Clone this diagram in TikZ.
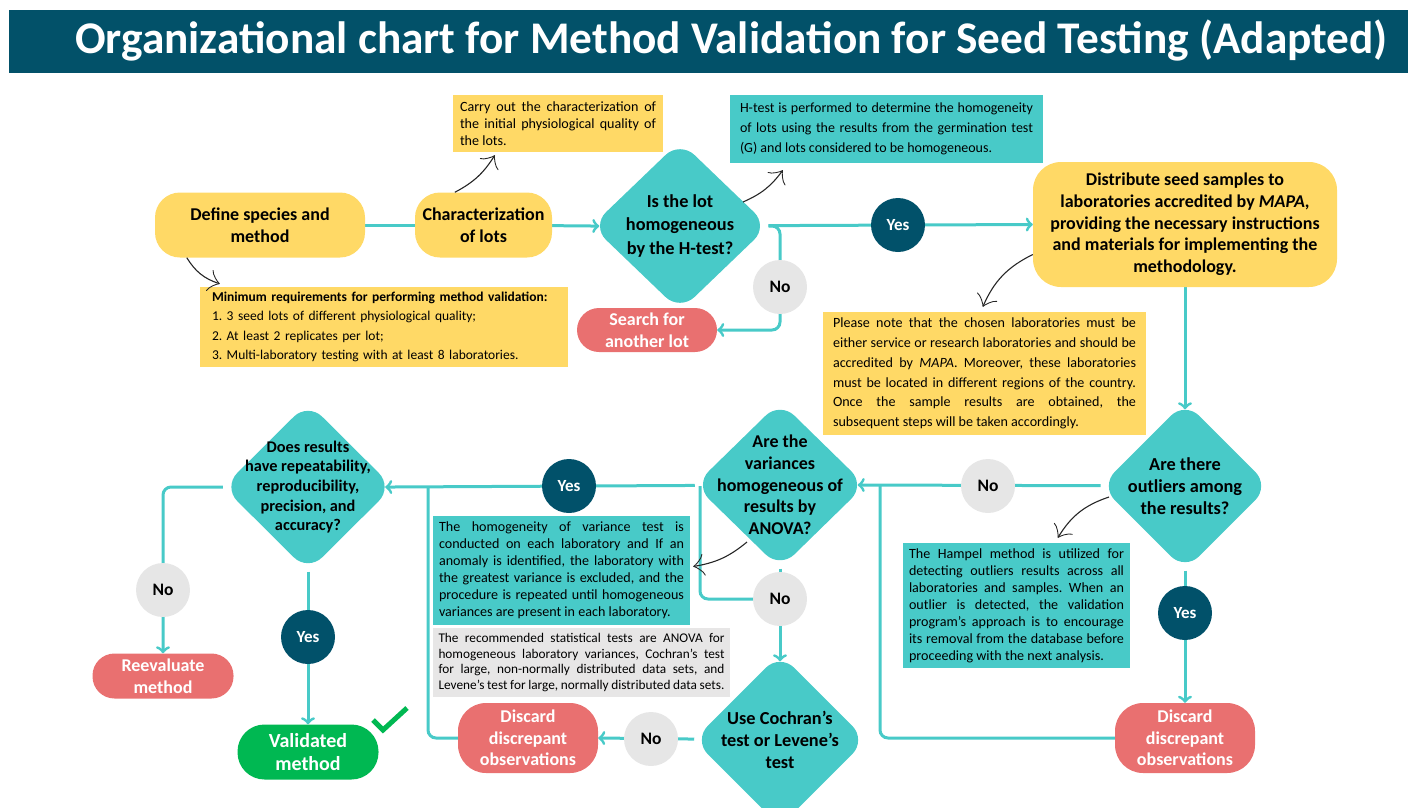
\documentclass[tikz,border=0pt]{standalone}
\usepackage{fontspec}
\setmainfont{Carlito}
\usepackage{tikz}
\usetikzlibrary{arrows.meta}
\usetikzlibrary{positioning}
\usetikzlibrary{shapes.geometric, calc, backgrounds}

\definecolor{titleblue}{HTML}{025169}
\definecolor{seedyellow}{HTML}{FFD966}
\definecolor{seedteal}{HTML}{48CAC8}
\definecolor{darkteal}{HTML}{01516A}
\definecolor{lightgrey}{HTML}{E6E6E6}
\definecolor{salmon}{HTML}{E97070}
\definecolor{okgreen}{HTML}{00B852}
\definecolor{notegrey}{HTML}{E7E6E6}

\frenchspacing

\begin{document}
\begin{tikzpicture}
    [x=1pt,y=1pt,
yellowbox/.style={rectangle, rounded corners=25pt, fill=seedyellow, align=center, inner sep=0pt, font=\fontsize{18}{21.7}\selectfont\bfseries},
redbox/.style={rectangle, rounded corners=22pt, fill=salmon, text=white, align=center, inner sep=0pt, font=\fontsize{18}{21.7}\selectfont\bfseries},
decision/.style={diamond, rounded corners=20pt, fill=seedteal, inner sep=0pt},
qtext/.style={align=center, font=\fontsize{18.3}{21.7}\selectfont\bfseries},
yesnode/.style={circle, fill=darkteal, text=white, minimum size=54pt, inner sep=0pt, font=\fontsize{17}{18}\selectfont\bfseries},
nonode/.style={circle, fill=lightgrey, minimum size=54pt, inner sep=0pt, font=\fontsize{17.5}{18}\selectfont\bfseries},
note/.style={rectangle, inner ysep=3pt, align=justify, font=\fontsize{14.1}{17}\selectfont},
flow/.style={seedteal, line width=3pt, -{Classical TikZ Rightarrow[length=7pt,width=14pt]}},
link/.style={seedteal, line width=3pt},
todia/.style={shorten >=-8pt},
hint/.style={black!85, line width=1.1pt, -{Classical TikZ Rightarrow[length=11pt,width=22pt]}}
]

\useasboundingbox (0,0) rectangle (1417,-807);
\clip (0,0) rectangle (1417,-807);

% title bar
\fill[titleblue] (9,-10) rectangle (1408,-73);
\node[anchor=west, text=white, inner sep=0pt, font=\fontsize{45.3}{50}\selectfont\bfseries] (title) at (75,-41) {Organizational chart for Method Validation for Seed Testing (Adapted)};

% main steps
\node[yellowbox, minimum width=210pt, minimum height=65pt] (define) at (260,-225) {Define species and\\method};
\node[yellowbox, minimum width=137pt, minimum height=65pt] (charlots) at (483.5,-225) {Characterization\\of lots};
\node[decision, minimum width=177pt, minimum height=170pt, label={[qtext, font=\fontsize{18.3}{23.3}\selectfont\bfseries]center:Is the lot\\homogeneous\\by the H-test?}] (lotq) at (680,-226) {};
\node[yellowbox, rounded corners=28pt, minimum width=304pt, minimum height=125pt] (distribute) at (1185,-224.5) {Distribute seed samples to\\laboratories accredited by \textit{MAPA},\\providing the necessary instructions\\and materials for implementing the\\methodology.};
\node[redbox, minimum width=140pt, minimum height=44pt] (search) at (647,-330) {Search for\\another lot};

\node[decision, minimum width=169pt, minimum height=169pt, label={[qtext]center:Are there\\outliers among\\the results?}] (outq) at (1185,-486) {};
\node[redbox, rounded corners=28pt, minimum width=140pt, minimum height=70pt] (discR) at (1185,-738) {Discard\\discrepant\\observations};
\node[decision, minimum width=171pt, minimum height=167pt, label={[qtext, font=\fontsize{18}{21.7}\selectfont\bfseries]center:Are the\\variances\\homogeneous of\\results by\\ANOVA?}] (varq) at (780,-485) {};
\node[decision, minimum width=173pt, minimum height=173pt, label={[qtext]center:Use Cochran’s\\test or Levene’s\\test}] (cochq) at (780,-740) {};
\node[redbox, rounded corners=28pt, minimum width=140pt, minimum height=70pt] (discL) at (528,-738) {Discard\\discrepant\\observations};
\node[decision, minimum width=170pt, minimum height=169pt, label={[qtext, font=\fontsize{16.3}{19.6}\selectfont\bfseries]center:{Does results\\have repeatability,\\reproducibility,\\precision, and\\accuracy?}}] (repq) at (308,-487) {};
\node[redbox, minimum width=141pt, minimum height=45pt] (reeval) at (163,-676) {Reevaluate\\method};
\node[redbox, fill=okgreen, rounded corners=27pt, minimum width=141pt, minimum height=55pt, font=\fontsize{20}{23}\selectfont\bfseries] (validated) at (308,-752) {Validated\\method};

% yes / no marks
\node[yesnode] (yes1) at (898,-225) {Yes};
\node[nonode] (no1) at (780,-287) {No};
\node[nonode] (no2) at (988,-486) {No};
\node[yesnode] (yes2) at (1185,-613) {Yes};
\node[yesnode] (yes3) at (569,-486) {Yes};
\node[nonode] (no3) at (780,-599) {No};
\node[nonode] (no4) at (651,-739) {No};
\node[nonode] (no5) at (163,-590) {No};
\node[yesnode] (yes4) at (308,-637) {Yes};

% side notes
\node[note, fill=seedyellow, text width=196pt, inner xsep=7pt, minimum height=57pt, font=\fontsize{14.1}{16.7}\selectfont] (carry) at (558,-123.5) {Carry out the characterization of\linebreak the initial physiological quality of\linebreak the lots.};
\node[note, fill=seedteal, text width=293pt, inner xsep=10pt, minimum height=68pt, font=\fontsize{14}{19.7}\selectfont] (htest) at (886.5,-129) {H-test is performed to determine the homogeneity\linebreak of lots using the results from the germination test\linebreak (G) and lots considered to be homogeneous.};
\node[note, fill=seedyellow, text width=344pt, inner xsep=12pt, minimum height=80pt, align=left, font=\fontsize{13.5}{19.2}\selectfont] (minreq) at (384,-327) {\textbf{Minimum requirements for performing method validation:}\\1. 3 seed lots of different physiological quality;\\2. At least 2 replicates per lot;\\3. Multi-laboratory testing with at least 8 laboratories.};
\node[note, fill=seedyellow, text width=303pt, inner xsep=10pt, minimum height=123pt, font=\fontsize{14.1}{19.7}\selectfont] (please) at (984.5,-373.5) {Please note that the chosen laboratories must be\linebreak either service or research laboratories and should be\linebreak accredited by \textit{MAPA}. Moreover, these laboratories\linebreak must be located in different regions of the country.\linebreak Once the sample results are obtained, the\linebreak subsequent steps will be taken accordingly.};
\node[note, fill=seedteal, text width=215pt, inner xsep=6pt, minimum height=125pt] (hampel) at (1016.5,-605.5) {The Hampel method is utilized for\linebreak detecting outliers results across all\linebreak laboratories and samples. When an\linebreak outlier is detected, the validation\linebreak program's approach is to encourage\linebreak its removal from the database before\linebreak proceeding with the next analysis.};
\node[note, fill=seedteal, text width=245pt, inner xsep=6pt, minimum height=109pt] (homog) at (561.5,-570.5) {The homogeneity of variance test is\linebreak conducted on each laboratory and If an\linebreak anomaly is identified, the laboratory with\linebreak the greatest variance is excluded, and the\linebreak procedure is repeated until homogeneous\linebreak variances are present in each laboratory.};
\node[note, fill=notegrey, text width=286pt, inner xsep=5.5pt, minimum height=69pt, font=\fontsize{13.3}{15.8}\selectfont] (recomm) at (581.5,-662.5) {The recommended statistical tests are ANOVA for\linebreak homogeneous laboratory variances, Cochran's test\linebreak for large, non-normally distributed data sets, and\linebreak Levene's test for large, normally distributed data sets.};

% check mark next to the validated method
\draw[okgreen, line width=5pt] (373,-720) -- (383,-730) -- (407,-708);

\coordinate (jn1) at (880,-486);
\coordinate (jn2) at (700,-486);
\coordinate (jn3) at (428,-486);

\begin{scope}[on background layer]
\draw[link] (define) -- (charlots);
\draw[flow, todia] (charlots) -- (lotq.west);
\draw[flow] (lotq) -- (distribute.west);
\draw[flow, rounded corners=8pt] (lotq) -- (no1 |- lotq) -- (no1) -- (no1 |- search) -- (search.east);
\draw[flow, todia] (distribute) -- (outq.north);
\draw[flow, todia] (outq) -- (varq.east);
\draw[flow] (outq) -- (discR.north);
\draw[link, rounded corners=8pt] (discR) -| (jn1);
\draw[flow, todia] (varq) -- (repq.east);
\draw[flow, todia] (varq) -- (cochq.north);
\draw[link, rounded corners=8pt] (no3) -| (jn2);
\draw[flow] (cochq) -- (discL.east);
\draw[link, rounded corners=8pt] (discL) -| (jn3);
\draw[flow] (repq) -- (validated.north);
\draw[flow, rounded corners=8pt] (repq) -| (reeval.north);
\end{scope}

% pointers to the notes
\draw[hint] ([xshift=32pt]define.south west) to[bend right=20] ([shift={(20pt,3pt)}]minreq.north west);
\draw[hint] ([xshift=40pt]charlots.north west) to[bend right=15] ([shift={(42pt,-3pt)}]carry.south west);
\draw[hint] ([shift={(63pt,24pt)}]lotq.center) to[bend right=15] ([shift={(53pt,-7pt)}]htest.south west);
\draw[hint] ([yshift=-30pt]distribute.west) to[bend right=20] ([shift={(160pt,5pt)}]please.north west);
\draw[hint] ([shift={(-76pt,-11pt)}]outq.center) to[bend right=20] ([shift={(155pt,5pt)}]hampel.north west);
\draw[hint] ([shift={(-33pt,-57pt)}]varq.center) to[bend left=15] ([shift={(3pt,4pt)}]homog.east);

\end{tikzpicture}
\end{document}
